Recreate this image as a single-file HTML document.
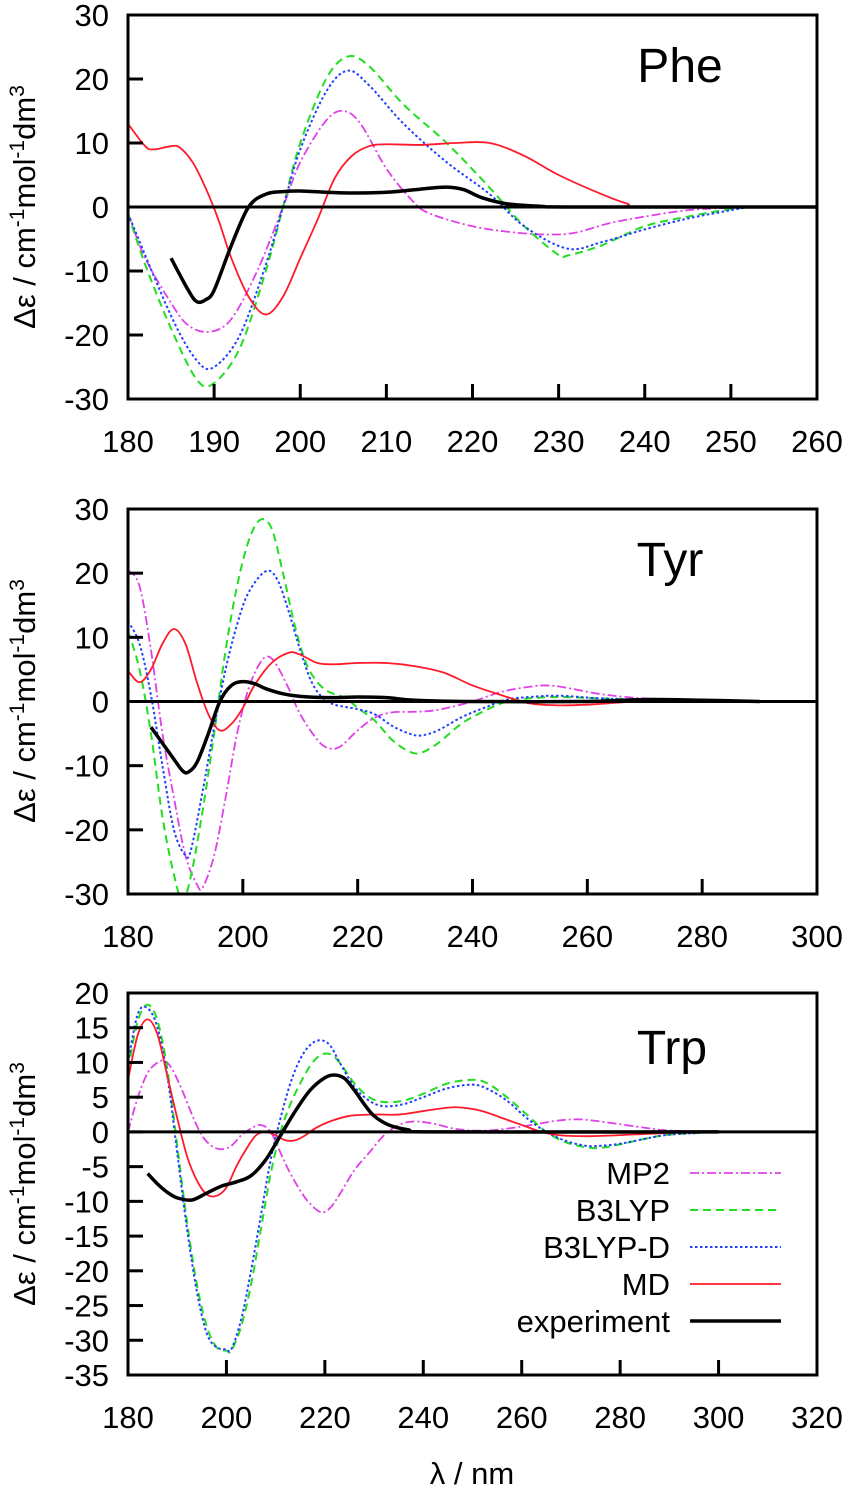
<!DOCTYPE html>
<html><head><meta charset="utf-8">
<style>
html,body{margin:0;padding:0;background:#fff;}
svg{display:block;font-family:"Liberation Sans",Arial,sans-serif;}
</style></head>
<body>
<svg id="chart" width="850" height="1488" viewBox="0 0 850 1488"></svg>
<script>
// ---------- data ----------
const pheMP2 = [[180,-1],[182,-8],[185,-15],[187,-18.5],[189.5,-19.5],[192,-17.5],[195,-10],[198,0],[200,7],[203,13.5],[205,15],[207,13],[210,6],[213,1],[215,-1],[220,-3],[225,-4],[229,-4.3],[232,-4],[236,-2.5],[240,-1.5],[245,-0.5],[250,-0.1],[252,0]];
const pheB3LYP = [[180,-1],[182,-9],[185,-19],[188,-27],[190,-27.5],[193,-22],[196,-10],[198,0],[200,10],[203,20],[205.5,23.5],[208,22],[212,16],[217,10],[222,3],[226,-3],[230,-7.5],[231,-7.6],[235,-6],[240,-3],[245,-1.5],[250,-0.3],[252,0]];
const pheB3LYPD = [[180,-1],[185,-17],[188,-24],[190,-25],[193,-20],[196,-9],[198,0],[200,9],[203,18],[205.5,21.3],[208,19],[212,13],[217,7],[222,2],[226,-3],[231,-6.5],[235,-5.5],[240,-3.5],[245,-1.8],[250,-0.5],[252,0]];
const pheMD = [[180,13],[182,9.5],[183,9],[185,9.5],[186,9.3],[187.5,7],[189,3],[190.5,-2],[192,-8],[194,-14],[196,-16.8],[198,-14],[200,-8],[202,-2],[204,4.5],[206,8],[208,9.5],[210,9.8],[214,9.7],[218,10],[222,10],[226,8],[230,5],[235,2],[238,0.5],[240,0],[260,0]];
const pheExp = [[185,-8],[187,-13],[188,-14.8],[189,-14.5],[190,-13],[192,-6],[194,0],[196,2],[198,2.4],[200,2.5],[205,2.2],[210,2.3],[214,2.8],[217,3.1],[219,2.7],[221,1.5],[224,0.5],[228,0.1],[232,0],[260,0]];

const tyrMP2 = [[180,20.5],[182,18],[184,8],[186,-5],[188,-15],[190,-24],[192,-28.5],[193,-29],[195,-24],[197,-15],[199,-5],[201,2],[203,6],[204.5,7],[206,5.5],[208,2],[210,-2],[213,-6],[215,-7.3],[217,-7],[220,-4.5],[223,-2.5],[226,-1.7],[230,-1.6],[234,-1.3],[240,0],[245,1.5],[250,2.3],[253,2.5],[256,2.2],[262,1.2],[268,0.6],[275,0.3],[285,0.1],[290,0]];
const tyrB3LYP = [[180,11],[182,5],[184,-5],[186,-18],[188,-27],[189.5,-31],[191,-27],[193,-17],[195,-5],[197,8],[199,18],[201,25],[203,28.3],[205,27],[207,20],[209,12],[211,6],[213,3],[215,1.5],[218,0.5],[220,-1],[223,-3],[226,-6],[229,-7.8],[231,-8],[234,-6.5],[238,-3.5],[242,-1.5],[246,0],[250,0.5],[255,0.7],[262,0.5],[270,0.3],[280,0.2],[290,0]];
const tyrB3LYPD = [[180,12.5],[182,9],[184,1],[186,-10],[188,-20],[190,-24],[191,-23],[193,-14],[195,-4],[197,5],[199,12],[201,17],[204,20.3],[206,19],[208,14],[210,8],[212,3],[214,0.5],[216,-0.5],[220,-1.2],[223,-2],[226,-3.8],[229,-5],[231,-5.3],[234,-4.5],[238,-2.5],[242,-1],[246,0.3],[250,0.7],[255,0.9],[262,0.5],[270,0.3],[285,0.1],[290,0]];
const tyrMD = [[180,4.8],[182,3],[184,5],[186,9],[188,11.3],[190,9],[192,3],[194,-2],[196,-4.5],[198,-3.5],[200,-1],[202,2.5],[205,6],[208,7.6],[210,7.3],[213,6],[216,5.8],[220,6],[225,6],[230,5.5],[235,4.5],[240,2.5],[245,1],[250,-0.3],[255,-0.6],[260,-0.5],[265,-0.2],[270,0.1],[280,0.2],[290,0]];
const tyrExp = [[184,-4],[186,-6.5],[188,-9],[189.5,-10.8],[190.5,-11],[192,-9.5],[194,-5],[196,0],[198,2.5],[200,3.1],[202,2.8],[204,2],[207,1.2],[210,0.8],[215,0.6],[220,0.7],[225,0.6],[230,0.2],[240,0],[260,0],[270,0.3],[280,0.2],[290,0]];

const trpMP2 = [[180,0],[182,5],[184,8.5],[186,10],[187.5,10.2],[189,9],[191,6],[193,2.5],[195,-0.5],[197,-2],[199,-2.5],[201,-2],[203,-0.5],[205,0.5],[207,1],[209,0],[211,-3],[213,-6],[216,-9.5],[219,-11.5],[221,-11],[223,-9],[226,-5.5],[229,-3],[232,-0.5],[235,1],[238,1.5],[242,1.2],[246,0.5],[250,0.2],[255,0.3],[262,1],[267,1.6],[272,1.8],[278,1.3],[285,0.6],[290,0.2],[300,0]];
const trpB3LYP = [[180,9],[182,16],[184,18.3],[186,16],[188,9],[190,-2],[192,-13],[194,-22],[196,-28],[198,-31],[200,-31.5],[201,-31.5],[203,-28],[205,-22],[207,-14],[209,-6],[211,0],[213,4],[215,7],[217,9.5],[219,11],[221,11.2],[223,10],[226,7],[229,5],[232,4.3],[236,4.5],[240,5.5],[245,7],[250,7.5],[253,7],[257,5],[261,2.5],[265,0],[269,-1.5],[273,-2.2],[276,-2.3],[280,-1.8],[285,-1],[290,-0.4],[300,0]];
const trpB3LYPD = [[180,10],[182,17],[184,17.8],[186,15],[188,8],[190,-3],[192,-14],[194,-23],[196,-29],[198,-31],[200,-31.3],[201,-31.3],[203,-27],[205,-20],[207,-12],[209,-4],[211,2],[213,7],[215,10.5],[217,12.5],[219,13.2],[221,12.5],[223,10],[226,6.5],[229,4.5],[232,3.7],[236,4],[240,5],[245,6.3],[250,6.8],[253,6.2],[257,4.5],[261,2],[265,0],[269,-1.3],[273,-2],[276,-2],[280,-1.7],[285,-1],[290,-0.4],[300,0]];
const trpMD = [[180,7.5],[182,14],[184,16.2],[186,14],[188,8],[190,2],[192,-3.5],[194,-7],[196,-9],[198,-9.2],[200,-8],[202,-5],[204,-2.5],[206,-0.5],[208,0],[210,-0.5],[212,-1.2],[214,-1.2],[216,-0.5],[218,0.5],[221,1.5],[225,2.3],[230,2.5],[235,2.5],[240,3],[245,3.5],[248,3.5],[252,3],[256,2],[260,1],[264,0],[268,-0.5],[275,-0.6],[285,-0.3],[295,0]];
const trpExp = [[184,-6],[186,-7.5],[188,-8.7],[190,-9.5],[193,-9.8],[196,-8.8],[199,-7.8],[202,-7.2],[205,-6.3],[208,-4],[211,-0.5],[214,3],[217,6],[220,7.8],[222,8.2],[224,7.7],[226,6],[228,4],[230,2.3],[233,1],[237,0.3],[242,0],[300,0]];

const pheXTicks = [180,190,200,210,220,230,240,250,260];
const pheYTicks = [30,20,10,0,-10,-20,-30];
const tyrXTicks = [180,200,220,240,260,280,300];
const tyrYTicks = [30,20,10,0,-10,-20,-30];
const trpXTicks = [180,200,220,240,260,280,300,320];
const trpYTicks = [20,15,10,5,0,-5,-10,-15,-20,-25,-30,-35];
const legendLabels = ["MP2","B3LYP","B3LYP-D","MD","experiment"];

// ---------- styles ----------
const S = {
  mp2:{stroke:"#e040e8",w:1.8,dash:"9,3,2,3"},
  b3:{stroke:"#22dd22",w:2,dash:"8,5"},
  b3d:{stroke:"#2040ff",w:2,dash:"2.5,2.5"},
  md:{stroke:"#ff1a2a",w:1.8,dash:null},
  exp:{stroke:"#000",w:3.5,dash:null}
};
const FS=31;
const NS="http://www.w3.org/2000/svg";
const svg=document.getElementById("chart");
function mk(tag,attrs,parent){const e=document.createElementNS(NS,tag);for(const k in attrs)e.setAttribute(k,attrs[k]);(parent||svg).appendChild(e);return e;}

function pathFrom(pts){
  let d="M"+pts[0][0].toFixed(2)+","+pts[0][1].toFixed(2);
  for(let i=0;i<pts.length-1;i++){
    const p0=pts[Math.max(0,i-1)],p1=pts[i],p2=pts[i+1],p3=pts[Math.min(pts.length-1,i+2)];
    const c1x=p1[0]+(p2[0]-p0[0])/6,c1y=p1[1]+(p2[1]-p0[1])/6;
    const c2x=p2[0]-(p3[0]-p1[0])/6,c2y=p2[1]-(p3[1]-p1[1])/6;
    d+=" C"+c1x.toFixed(2)+","+c1y.toFixed(2)+" "+c2x.toFixed(2)+","+c2y.toFixed(2)+" "+p2[0].toFixed(2)+","+p2[1].toFixed(2);
  }
  return d;
}

function panel(cfg){
  const {name,L,R,T,B,xmin,xmax,ymin,ymax,xticks,yticks,series,title,tx,ty,ylabY}=cfg;
  const g=mk("g",{});
  
  
  const sx=v=>L+(v-xmin)/(xmax-xmin)*(R-L);
  const sy=v=>B-(v-ymin)/(ymax-ymin)*(B-T);
  const cid="clip-"+name;
  const cp=mk("clipPath",{id:cid},g);mk("rect",{x:L,y:T,width:R-L,height:B-T},cp);
  const sg=mk("g",{"clip-path":"url(#"+cid+")"},g);
  const z=mk("line",{x1:L,x2:R,y1:sy(0),y2:sy(0),stroke:"#000","stroke-width":3},g);
  
  
  series.forEach(s=>{
    const pts=s.data.map(p=>[sx(p[0]),sy(p[1])]);
    const st=S[s.key];
    const p=mk("path",{d:pathFrom(pts),fill:"none",stroke:st.stroke,"stroke-width":st.w,"stroke-linejoin":"round"},sg);
    if(st.dash)p.setAttribute("stroke-dasharray",st.dash);
    
    
  });
  sg.parentNode.appendChild(z);
  const fr=mk("rect",{x:L,y:T,width:R-L,height:B-T,fill:"none",stroke:"#000","stroke-width":3},g);
  
  
  xticks.forEach(v=>{
    const x=sx(v);
    if(v!==xmin&&v!==xmax){const t=mk("line",{x1:x,x2:x,y1:B,y2:B-15,stroke:"#000","stroke-width":3},g);
      
      }
    const l=mk("text",{x:x,y:B+53,"font-size":FS,"text-anchor":"middle",fill:"#000"},g);
    l.textContent=v;
    
    
  });
  yticks.forEach(v=>{
    const y=sy(v);
    if(v!==ymin&&v!==ymax){const t=mk("line",{x1:L,x2:L+15,y1:y,y2:y,stroke:"#000","stroke-width":3},g);
      
      }
    const l=mk("text",{x:L-19,y:y+11,"font-size":FS,"text-anchor":"end",fill:"#000"},g);
    l.textContent=v;
    
    
  });
  const tt=mk("text",{x:tx,y:ty,"font-size":48,"text-anchor":"middle",fill:"#000"},g);
  tt.textContent=title;
  
  
  const yl=mk("text",{transform:"translate(35,"+ylabY+") rotate(-90)","font-size":FS,"text-anchor":"middle",fill:"#000"},g);
  yl.innerHTML='Δε / cm<tspan dy="-11" font-size="21">-1</tspan><tspan dy="11">mol</tspan><tspan dy="-11" font-size="21">-1</tspan><tspan dy="11">dm</tspan><tspan dy="-11" font-size="21">3</tspan>';
  
  
  return {sx,sy};
}

panel({name:"phe",L:128,R:817,T:15,B:399,xmin:180,xmax:260,ymin:-30,ymax:30,xticks:pheXTicks,yticks:pheYTicks,title:"Phe",tx:680,ty:82,ylabY:207,
  series:[{key:"mp2",data:pheMP2},{key:"b3",data:pheB3LYP},{key:"b3d",data:pheB3LYPD},{key:"md",data:pheMD},{key:"exp",data:pheExp}]});
panel({name:"tyr",L:128,R:817,T:509,B:894,xmin:180,xmax:300,ymin:-30,ymax:30,xticks:tyrXTicks,yticks:tyrYTicks,title:"Tyr",tx:670,ty:576,ylabY:701,
  series:[{key:"mp2",data:tyrMP2},{key:"b3",data:tyrB3LYP},{key:"b3d",data:tyrB3LYPD},{key:"md",data:tyrMD},{key:"exp",data:tyrExp}]});
panel({name:"trp",L:128,R:817,T:993,B:1375,xmin:180,xmax:320,ymin:-35,ymax:20,xticks:trpXTicks,yticks:trpYTicks,title:"Trp",tx:672,ty:1064,ylabY:1184,
  series:[{key:"mp2",data:trpMP2},{key:"b3",data:trpB3LYP},{key:"b3d",data:trpB3LYPD},{key:"md",data:trpMD},{key:"exp",data:trpExp}]});

// legend
const keys=["mp2","b3","b3d","md","exp"];
legendLabels.forEach((lab,i)=>{
  const y=1173+i*37;
  const g=mk("g",{});
  
  
  const t=mk("text",{x:670,y:y+11,"font-size":FS,"text-anchor":"end",fill:"#000"},g);
  t.textContent=lab;
  
  
  const st=S[keys[i]];
  const l=mk("line",{x1:690,x2:781,y1:y,y2:y,stroke:st.stroke,"stroke-width":st.w},g);
  if(st.dash)l.setAttribute("stroke-dasharray",st.dash);
  
  
});

const xl=mk("text",{x:472,y:1484,"font-size":FS,"text-anchor":"middle",fill:"#000"});
xl.textContent="λ / nm";


</script>
</body></html>
